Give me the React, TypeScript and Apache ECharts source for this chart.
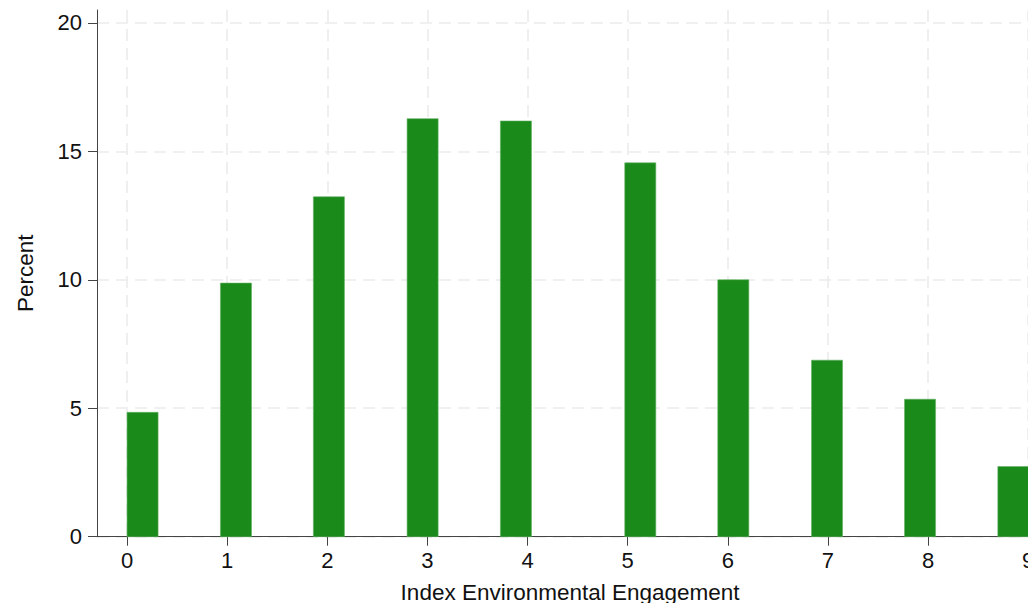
import React, { useEffect, useRef } from "react";
import * as echarts from "echarts";

// Bar positions (left edge of each bar, in index units) and percent values
const barLefts = [0, 0.933, 1.861, 2.797, 3.729, 4.971, 5.9, 6.836, 7.765, 8.697];
const percents = [4.84, 9.87, 13.23, 16.27, 16.18, 14.55, 10.0, 6.87, 5.35, 2.73];
const barSpan = 0.31;
const xTicks = [0, 1, 2, 3, 4, 5, 6, 7, 8, 9];
const yTicks = [0, 5, 10, 15, 20];
const xTitle = "Index Environmental Engagement";
const yTitle = "Percent";

export default function App() {
  const ref = useRef<HTMLDivElement>(null);
  useEffect(() => {
    if (!ref.current) return;
    const chart = echarts.init(ref.current, null, { renderer: "svg" });
    const font = "'Liberation Sans', Arial, Helvetica, sans-serif";
    const grid = { color: "#ececec", width: 1.6, type: [12, 7] as any };
    const data = barLefts.map((l, i) => [l, l + barSpan, percents[i]]);
    chart.setOption({
      animation: false,
      backgroundColor: "#fff",
      grid: {
        left: 97,
        top: 10,
        bottom: 66.3,
        right: 156.8,
        containLabel: false,
        outerBoundsMode: "none",
      },
      xAxis: {
        type: "value",
        min: -0.3,
        max: 9.15,
        name: xTitle,
        nameLocation: "middle",
        nameGap: 44,
        nameTextStyle: { fontFamily: font, fontSize: 22.5, color: "#111" },
        axisLine: { show: true, onZero: false, lineStyle: { color: "#444", width: 1 } },
        axisTick: { show: true, length: 9, customValues: xTicks, lineStyle: { color: "#444" } },
        axisLabel: { customValues: xTicks, margin: 13, fontFamily: font, fontSize: 22, color: "#111" },
        splitLine: { show: true, lineStyle: grid },
      },
      yAxis: {
        type: "value",
        min: 0,
        max: 20.5,
        name: yTitle,
        nameLocation: "middle",
        nameGap: 60,
        nameTextStyle: { fontFamily: font, fontSize: 22.5, color: "#111" },
        axisLine: { show: true, onZero: false, lineStyle: { color: "#444", width: 1 } },
        axisTick: { show: true, length: 9, customValues: yTicks, lineStyle: { color: "#444" } },
        axisLabel: { customValues: yTicks, margin: 15, fontFamily: font, fontSize: 22, color: "#111" },
        splitLine: { show: true, lineStyle: grid },
      },
      series: [
        {
          type: "custom",
          data,
          clip: false,
          encode: { x: [0, 1], y: 2 },
          renderItem: (params: any, api: any) => {
            const p0 = api.coord([api.value(0), 0]);
            const p1 = api.coord([api.value(1), api.value(2)]);
            return {
              type: "rect",
              shape: { x: p0[0], y: p1[1], width: p1[0] - p0[0], height: p0[1] - p1[1] },
              style: { fill: "#1a8a1a", stroke: "#5fb05f", lineWidth: 0.6 },
            };
          },
        },
      ],
    });
    return () => chart.dispose();
  }, []);
  return (
    <div
      style={{
        position: "fixed",
        left: 0,
        top: 0,
        width: 1028,
        height: 603,
        overflow: "hidden",
        background: "#fff",
      }}
    >
      <div ref={ref} style={{ width: 1200, height: 603 }} />
    </div>
  );
}
